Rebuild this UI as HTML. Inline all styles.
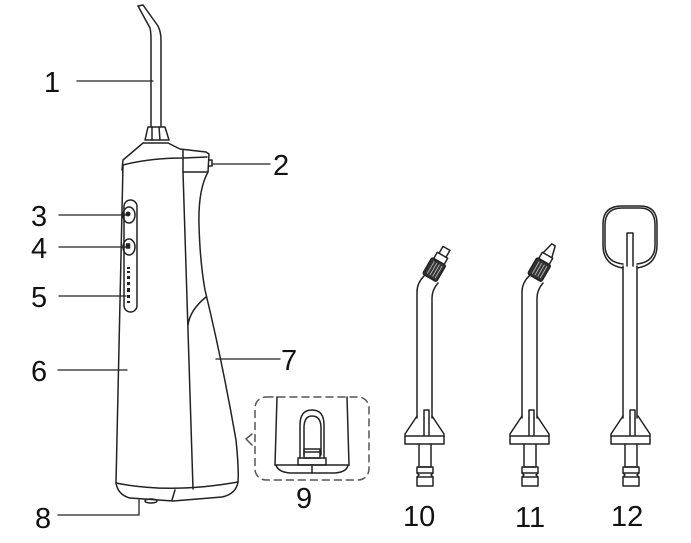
<!DOCTYPE html>
<html><head><meta charset="utf-8"><style>
html,body{margin:0;padding:0;background:#fff;}
svg{display:block;}
text{font-family:"Liberation Sans",sans-serif;font-size:29px;fill:#111;}
</style></head><body>
<svg width="691" height="543" viewBox="0 0 691 543" xmlns="http://www.w3.org/2000/svg" fill="none" stroke="#222" stroke-width="1.5" stroke-linejoin="round" stroke-linecap="round">
<!-- nozzle -->
<path d="M138,6 L143,5 L158,26 Q161,32 161,40 L161,126"/>
<path d="M138,6 L150,28 Q151,32 151,40 L151,126"/>
<path d="M148,127 L165,127 L169,140 L145,140 Z"/>
<path d="M152,127 L152,140 M159,127 L160,140"/>
<!-- head -->
<path d="M122,170 L123,160 L143,143 L168,143 L180,149 L206,152 L209,154 L208,172"/>
<path d="M123,165 Q150,158 183,158 L207,157"/>
<path d="M183,150 L183,172 M183,172 L207,172"/>
<path d="M209,160 L212,160 L212,166 L209,166"/>
<!-- body -->
<path d="M123,165 L116,483"/>
<path d="M208,172 Q198,190 199,225 Q200,262 205,290 Q222,360 236,440 Q239,470 238,482"/>
<path d="M183,172 L193,489"/>
<path d="M206,297 Q190,310 188,325"/>
<path d="M116,483 Q170,494 238,482"/>
<path d="M116,483 Q118,495 130,498 L173,501 L222,497 Q236,494 238,482"/>
<path d="M175,490 L172,500"/>
<ellipse cx="151" cy="501" rx="6" ry="2"/>
<!-- button panel -->
<rect x="124" y="200" width="13" height="112" rx="6.5"/>
<ellipse cx="129" cy="215" rx="6" ry="8"/>
<circle cx="128" cy="214" r="1.8" fill="#222"/>
<ellipse cx="129" cy="247" rx="6" ry="8"/>
<rect x="126.5" y="244" width="3" height="4" fill="#222"/>
<g fill="#222" stroke="none">
<rect x="127" y="267" width="3" height="2"/><rect x="127" y="271" width="3" height="2"/><rect x="127" y="276" width="3" height="3"/>
<rect x="127" y="282" width="3" height="3"/><rect x="127" y="288" width="3" height="4"/><rect x="127" y="295" width="3" height="3"/><rect x="127" y="301" width="3" height="2"/></g>
<!-- leader lines -->
<g stroke-width="1.3">
<path d="M77,81 L153,81"/><path d="M212,164 L270,164"/>
<path d="M59,215 L126,215"/><path d="M59,247 L126,247"/><path d="M59,296 L126,296"/>
<path d="M58,370 L127,370"/><path d="M216,359 L280,359"/>
<path d="M58,515 L139,515 L139,500"/>
</g>
<!-- inset -->
<rect x="255" y="397" width="114" height="83" rx="11" stroke-dasharray="7,5" stroke="#555"/>
<path d="M252,434 L246,439 L252,445" stroke="#555"/>
<path d="M277,397 L275,465 M347,397 L349,465"/>
<path d="M275,465 L349,465 M276,465 Q278,472 290,473 L335,473 Q347,472 348,465"/>
<path d="M312,465 L312,473"/>
<path d="M300,458 L300,425 Q300,410 312,410 Q324,410 324,425 L324,458"/>
<path d="M304,455 L304,428 Q304,416 312,416 Q321,416 321,428 L321,455"/>
<rect x="304" y="449" width="16" height="9"/><path d="M298,458 L326,458 L326,465 L298,465 Z"/>
<path d="M305,452 L319,452"/>
<!-- accessory template -->
<g id="acc">
<path d="M417,418 L417,292 Q417,283 424,276 M432,418 L432,298 Q432,290 438,283"/>
<path d="M424,418 L424,410 L429,410 L429,418"/>
<path d="M417,416 L405,434 L405,444 L444,444 L444,434 L432,416"/>
<path d="M405,436 L444,436 M424,418 L424,436 M429,418 L429,436"/>
<path d="M419,444 L419,467 L431,467 L431,444"/>
<path d="M417,467 L433,467 L433,473 L431,475 L433,477 L433,486 L417,486 L417,477 L419,475 L417,473 Z"/>
<path d="M417,473 L433,473 M417,477 L433,477"/>
</g>
<g transform="rotate(30 434 270)">
<rect x="426" y="260" width="16" height="19" rx="2" fill="#333"/>
<path d="M430,263 L430,276 M433,263 L433,276 M436,263 L436,276 M439,263 L439,276" stroke="#aaa" stroke-width="1"/>
<path d="M428,260 L428,253 L440,253 L440,260 M430,253 L430,245 L438,245 L438,253"/>
</g>
<use href="#acc" transform="translate(105,0)"/>
<g transform="rotate(30 539 270)">
<rect x="531" y="260" width="16" height="19" rx="2" fill="#333"/>
<path d="M535,263 L535,276 M538,263 L538,276 M541,263 L541,276 M544,263 L544,276" stroke="#aaa" stroke-width="1"/>
<path d="M533,260 L533,253 L545,253 L545,260 M534,253 L537,241 L541,241 L544,253"/>
</g>
<!-- 12 -->
<path d="M623,418 L623,266 M637,418 L637,266"/>
<path d="M627,266 L627,233 L633,233 L633,266"/>
<path d="M623,264 Q605,262 605,245 L605,225 Q605,208 622,208 L640,208 Q655,208 655,225 L655,245 Q655,262 637,264"/>
<path d="M623,268 Q603,265 603,245 L603,224 Q603,206 622,206 L640,206 Q657,206 657,224 L657,245 Q657,265 637,268"/>
<g transform="translate(206,0)">
<path d="M424,418 L424,410 L429,410 L429,418"/>
<path d="M417,416 L405,434 L405,444 L444,444 L444,434 L432,416"/>
<path d="M405,436 L444,436 M424,418 L424,436 M429,418 L429,436"/>
<path d="M419,444 L419,467 L431,467 L431,444"/>
<path d="M417,467 L433,467 L433,473 L431,475 L433,477 L433,486 L417,486 L417,477 L419,475 L417,473 Z"/>
<path d="M417,473 L433,473 M417,477 L433,477"/>
</g>
<!-- labels -->
<g stroke="none">
<text x="44" y="92">1</text>
<text x="273" y="175">2</text>
<text x="31" y="226">3</text>
<text x="31" y="258">4</text>
<text x="31" y="307">5</text>
<text x="31" y="381">6</text>
<text x="281" y="370">7</text>
<text x="35" y="528">8</text>
<text x="296" y="508">9</text>
<text x="403" y="526">10</text>
<text x="515" y="527">11</text>
<text x="611" y="526">12</text>
</g>
</svg>
</body></html>
